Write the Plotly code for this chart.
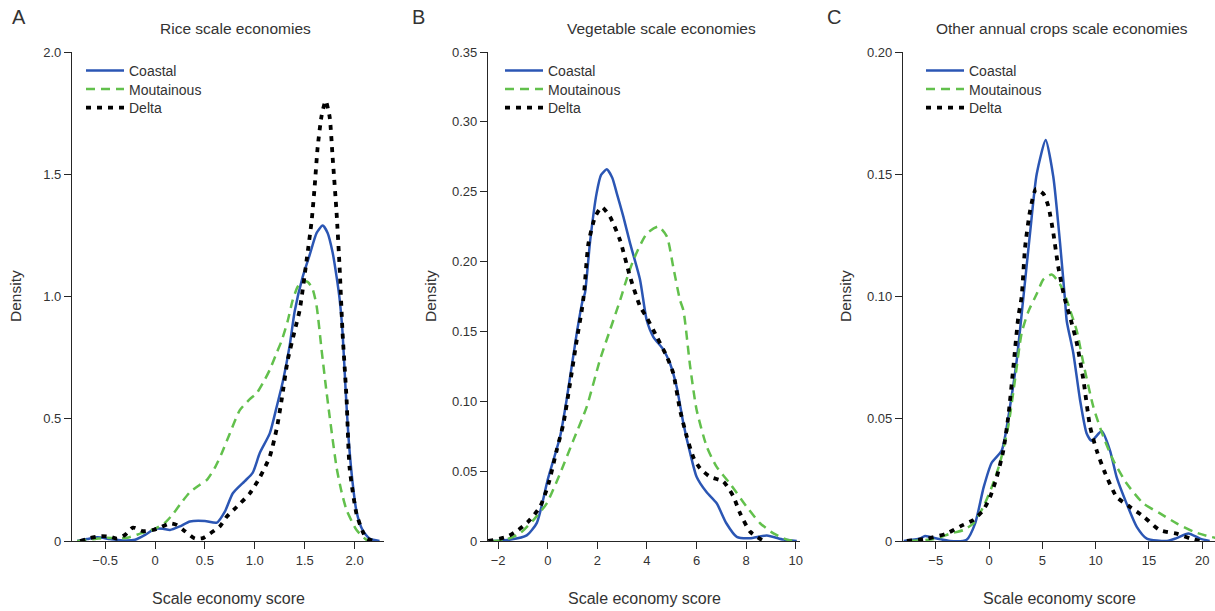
import plotly.graph_objects as go

W, H = 1215, 611

series_names = ["Coastal", "Moutainous", "Delta"]

# ---------- Panel A: Rice ----------
rice_coastal_x = [-0.78, -0.68, -0.58, -0.45, -0.3, -0.2, -0.1, 0.0, 0.08, 0.15, 0.25, 0.35, 0.5, 0.62, 0.7, 0.78,
                  0.9, 0.98, 1.05, 1.15, 1.22, 1.28, 1.35, 1.40, 1.48, 1.55, 1.62, 1.68, 1.73, 1.78, 1.82, 1.85,
                  1.88, 1.91, 1.94, 1.98, 2.02, 2.08, 2.15, 2.25]
rice_coastal_y = [0, 0.008, 0.015, 0.008, 0.002, 0.005, 0.025, 0.05, 0.05, 0.045, 0.06, 0.08, 0.082, 0.075, 0.12, 0.195,
                  0.245, 0.28, 0.36, 0.44, 0.55, 0.65, 0.8, 0.94, 1.08, 1.17, 1.26, 1.29, 1.26, 1.18, 1.08, 0.99,
                  0.85, 0.62, 0.42, 0.24, 0.12, 0.045, 0.01, 0]
rice_mount_x = [-0.78, -0.6, -0.5, -0.4, -0.28, -0.15, 0.0, 0.1, 0.18, 0.27, 0.35, 0.45, 0.52, 0.6, 0.67, 0.75, 0.85,
                0.95, 1.02, 1.1, 1.15, 1.22, 1.27, 1.33, 1.38, 1.43, 1.48, 1.53, 1.58, 1.62, 1.67, 1.71, 1.75, 1.82,
                1.87, 1.92, 2.02, 2.12, 2.2]
rice_mount_y = [0, 0.008, 0.013, 0.012, 0.013, 0.03, 0.05, 0.075, 0.11, 0.16, 0.2, 0.23, 0.25, 0.30, 0.36, 0.44, 0.535,
                0.58, 0.605, 0.66, 0.70, 0.77, 0.82, 0.90, 0.985, 1.04, 1.06, 1.06, 1.03, 0.96, 0.78, 0.64, 0.51, 0.30,
                0.20, 0.127, 0.045, 0.005, 0]
rice_delta_x = [-0.75, -0.65, -0.55, -0.45, -0.38, -0.3, -0.22, -0.12, -0.02, 0.05, 0.15, 0.22, 0.3, 0.4, 0.48, 0.55,
                0.65, 0.72, 0.82, 0.95, 1.05, 1.15, 1.22, 1.27, 1.33, 1.40, 1.45, 1.52, 1.57, 1.60, 1.63, 1.67, 1.71,
                1.75, 1.78, 1.82, 1.85, 1.88, 1.92, 1.95, 2.02, 2.08, 2.12, 2.2]
rice_delta_y = [0, 0.012, 0.02, 0.018, 0.01, 0.025, 0.055, 0.04, 0.045, 0.055, 0.072, 0.065, 0.04, 0.01, 0.012, 0.03,
                0.06, 0.10, 0.14, 0.195, 0.26, 0.345, 0.46, 0.58, 0.74, 0.86, 0.945, 1.15, 1.31, 1.45, 1.61, 1.74, 1.80,
                1.735, 1.57, 1.34, 1.12, 0.85, 0.58, 0.30, 0.11, 0.04, 0.01, 0]

# ---------- Panel B: Vegetable ----------
veg_coastal_x = [-2.2, -1.5, -0.85, -0.44, 0.0, 0.5, 0.76, 1.17, 1.41, 1.5, 1.71, 1.97, 2.15, 2.38, 2.6, 2.78, 3.05,
                 3.32, 3.72, 3.99, 4.26, 4.66, 4.93, 5.2, 5.47, 5.74, 6.0, 6.4, 6.81, 7.2, 7.62, 8.15, 8.83, 9.5, 10.04]
veg_coastal_y = [0, 0.001, 0.004, 0.013, 0.044, 0.075, 0.101, 0.149, 0.1725, 0.1775, 0.215, 0.249, 0.262, 0.266, 0.26,
                 0.249, 0.232, 0.213, 0.187, 0.158, 0.146, 0.137, 0.127, 0.11, 0.084, 0.063, 0.046, 0.035, 0.027,
                 0.0127, 0.003, 0.002, 0.004, 0.001, 0]
veg_mount_x = [-2.2, -1.7, -1.12, -0.58, -0.04, 0.5, 1.03, 1.57, 2.11, 2.51, 2.92, 3.12, 3.45, 3.99, 4.46, 4.8, 5.06,
               5.33, 5.47, 5.74, 6.0, 6.41, 6.81, 7.35, 8.02, 8.56, 9.1, 9.64, 10.1]
veg_mount_y = [0, 0.001, 0.0055, 0.015, 0.027, 0.0485, 0.072, 0.096, 0.13, 0.151, 0.1725, 0.184, 0.201, 0.22, 0.225,
               0.218, 0.196, 0.1725, 0.165, 0.125, 0.094, 0.0675, 0.053, 0.041, 0.0245, 0.0127, 0.0055, 0.001, 0]
veg_delta_x = [-2.4, -1.65, -1.18, -0.78, -0.31, 0.03, 0.36, 0.63, 0.9, 1.17, 1.37, 1.46, 1.64, 1.91, 2.18, 2.51, 2.92,
               3.32, 3.72, 3.99, 4.4, 4.8, 5.06, 5.33, 5.6, 5.87, 6.14, 6.54, 7.08, 7.48, 7.75, 8.16, 8.7]
veg_delta_y = [0, 0.003, 0.008, 0.014, 0.0245, 0.041, 0.065, 0.084, 0.113, 0.144, 0.165, 0.177, 0.213, 0.232, 0.239,
               0.232, 0.215, 0.189, 0.168, 0.16, 0.146, 0.132, 0.12, 0.094, 0.075, 0.060, 0.052, 0.046, 0.0425, 0.032,
               0.020, 0.0067, 0]

# ---------- Panel C: Other annual crops ----------
oth_coastal_x = [-8.0, -6.47, -6.0, -4.9, -3.66, -2.1, -1.3, -0.5, 0.25, 1.19, 1.97, 2.6, 3.2, 3.85, 4.47, 5.32, 6.03,
                 6.66, 7.13, 7.29, 7.9, 8.54, 9.16, 9.63, 10.57, 11.35, 11.98, 12.9, 13.86, 14.8, 16.7, 17.6, 18.7,
                 19.8, 20.7]
oth_coastal_y = [0, 0.001, 0.002, 0.001, 0, 0.0005, 0.0072, 0.022, 0.032, 0.037, 0.055, 0.074, 0.0986, 0.126, 0.150,
                 0.164, 0.149, 0.122, 0.0986, 0.090, 0.077, 0.0577, 0.044, 0.041, 0.045, 0.037, 0.026, 0.0154, 0.0058,
                 0.001, 0, 0.0012, 0.0031, 0.001, 0]
oth_mount_x = [-7.4, -4.9, -3.66, -2.4, -1.47, -0.53, 0.25, 1.03, 1.81, 2.44, 3.06, 3.7, 4.47, 5.1, 5.88, 6.66, 7.29,
               7.6, 8.23, 8.85, 9.78, 10.72, 11.66, 12.9, 14.47, 16.04, 17.6, 19.2, 20.7, 21.4]
oth_mount_y = [0, 0.001, 0.003, 0.0045, 0.0072, 0.014, 0.022, 0.032, 0.047, 0.066, 0.085, 0.094, 0.101, 0.107, 0.109,
               0.105, 0.0986, 0.0945, 0.086, 0.0727, 0.055, 0.0427, 0.033, 0.0236, 0.0154, 0.0113, 0.0072, 0.0038,
               0.0018, 0.0012]
oth_delta_x = [-7.7, -5.8, -4.0, -2.7, -1.47, -0.53, 0.1, 0.72, 1.34, 1.81, 2.28, 2.75, 3.06, 3.38, 3.85, 4.41, 5.1,
               5.56, 6.03, 6.5, 7.13, 7.6, 8.23, 8.85, 9.47, 10.1, 10.9, 11.98, 13.2, 14.5, 16.0, 17.6, 18.9, 19.8]
oth_delta_y = [0, 0.001, 0.003, 0.006, 0.0086, 0.0127, 0.018, 0.026, 0.037, 0.051, 0.071, 0.0917, 0.0999, 0.120, 0.135,
               0.144, 0.142, 0.137, 0.126, 0.112, 0.0986, 0.0917, 0.081, 0.066, 0.047, 0.037, 0.0277, 0.018, 0.014,
               0.01, 0.0045, 0.003, 0.001, 0]

panel_titles = ["Rice scale economies", "Vegetable scale economies", "Other annual crops scale economies"]
panel_letters = ["A", "B", "C"]
x_title = "Scale economy score"
y_title = "Density"

a_xticks = [-0.5, 0, 0.5, 1.0, 1.5, 2.0]
a_xtext = ["\u22120.5", "0", "0.5", "1.0", "1.5", "2.0"]
a_yticks = [0, 0.5, 1.0, 1.5, 2.0]
a_ytext = ["0", "0.5", "1.0", "1.5", "2.0"]
b_xticks = [-2, 0, 2, 4, 6, 8, 10]
b_xtext = ["\u22122", "0", "2", "4", "6", "8", "10"]
b_yticks = [0, 0.05, 0.10, 0.15, 0.20, 0.25, 0.30, 0.35]
b_ytext = ["0", "0.05", "0.10", "0.15", "0.20", "0.25", "0.30", "0.35"]
c_xticks = [-5, 0, 5, 10, 15, 20]
c_xtext = ["\u22125", "0", "5", "10", "15", "20"]
c_yticks = [0, 0.05, 0.10, 0.15, 0.20]
c_ytext = ["0", "0.05", "0.10", "0.15", "0.20"]

# ---------- styling ----------
FONT = "Arial, Liberation Sans, Helvetica, sans-serif"
TXT = "#333333"
AX = "#262626"
BLUE = "#2b56b4"
GREEN = "#62c04c"
BLACK = "#000000"

styles = [
    dict(color=BLUE, width=2.5, dash="solid"),
    dict(color=GREEN, width=2.5, dash="9px,6px"),
    dict(color=BLACK, width=3.8, dash="5px,6px"),
]

panels = [
    dict(data=[(rice_coastal_x, rice_coastal_y), (rice_mount_x, rice_mount_y), (rice_delta_x, rice_delta_y)],
         xr=[-0.832, 2.295], yr=[0, 2.0], xt=(a_xticks, a_xtext), yt=(a_yticks, a_ytext), px=(72, 384)),
    dict(data=[(veg_coastal_x, veg_coastal_y), (veg_mount_x, veg_mount_y), (veg_delta_x, veg_delta_y)],
         xr=[-2.41, 10.17], yr=[0, 0.35], xt=(b_xticks, b_xtext), yt=(b_yticks, b_ytext), px=(488, 800)),
    dict(data=[(oth_coastal_x, oth_coastal_y), (oth_mount_x, oth_mount_y), (oth_delta_x, oth_delta_y)],
         xr=[-8.07, 21.2], yr=[0, 0.2], xt=(c_xticks, c_xtext), yt=(c_yticks, c_ytext), px=(903, 1215)),
]

Y_TOP, Y_BOT = 52, 541
fig = go.Figure()
layout = dict(
    width=W, height=H, margin=dict(l=0, r=0, t=0, b=0, autoexpand=False),
    paper_bgcolor="white", plot_bgcolor="white", showlegend=True,
    font=dict(family=FONT, color=TXT, size=13),
    annotations=[],
)

legend_x = [81, 500, 921]
legend_rows = [71, 89.5, 108]
title_cx = [235, 661, 1062]
letter_cx = [19, 419, 834]
ytitle_cx = [15, 430, 845]

leg_n = 0
for i, p in enumerate(panels):
    sfx = "" if i == 0 else str(i + 1)
    for j, (xs, ys) in enumerate(p["data"]):
        leg_n += 1
        leg = "legend" if leg_n == 1 else f"legend{leg_n}"
        fig.add_trace(go.Scatter(
            x=xs, y=ys, mode="lines", name=series_names[j], showlegend=True,
            line=dict(shape="spline", smoothing=0.6, **styles[j]),
            xaxis="x" + sfx, yaxis="y" + sfx, legend=leg, hoverinfo="skip",
        ))
        layout[leg] = dict(x=legend_x[i] / W, y=1 - legend_rows[j] / H, xanchor="left", yanchor="middle",
                           bgcolor="rgba(0,0,0,0)", borderwidth=0,
                           font=dict(size=14, color=TXT, family=FONT), itemwidth=38)
    x0, x1 = p["px"]
    common = dict(showline=True, linecolor=AX, linewidth=1.3, ticks="outside", ticklen=7, tickwidth=1.3,
                  tickcolor=AX, showgrid=False, zeroline=False, automargin=False,
                  tickfont=dict(size=13, color=TXT, family=FONT))
    layout["xaxis" + sfx] = dict(domain=[x0 / W, x1 / W], range=p["xr"], anchor="y" + sfx,
                                 tickmode="array", tickvals=p["xt"][0], ticktext=p["xt"][1], **common)
    layout["yaxis" + sfx] = dict(domain=[1 - Y_BOT / H, 1 - Y_TOP / H], range=p["yr"], anchor="x" + sfx,
                                 tickmode="array", tickvals=p["yt"][0], ticktext=p["yt"][1], **common)
    layout["annotations"] += [
        dict(text=panel_titles[i], x=title_cx[i] / W, y=1 - 28 / H, xref="paper", yref="paper",
             showarrow=False, xanchor="center", yanchor="middle", font=dict(size=15.5, color=TXT)),
        dict(text=panel_letters[i], x=letter_cx[i] / W, y=1 - 17 / H, xref="paper", yref="paper",
             showarrow=False, xanchor="center", yanchor="middle", font=dict(size=20, color=TXT)),
        dict(text=y_title, x=ytitle_cx[i] / W, y=1 - 296 / H, xref="paper", yref="paper", textangle=-90,
             showarrow=False, xanchor="center", yanchor="middle", font=dict(size=15.5, color=TXT)),
        dict(text=x_title, x=(x0 + x1) / 2 / W, y=1 - 598 / H, xref="paper", yref="paper",
             showarrow=False, xanchor="center", yanchor="middle", font=dict(size=16, color=TXT)),
    ]

fig.update_layout(**layout)
fig.write_html("out.html", config={"displayModeBar": False},
               post_script="document.body.style.margin='0';document.body.style.overflow='hidden';")
